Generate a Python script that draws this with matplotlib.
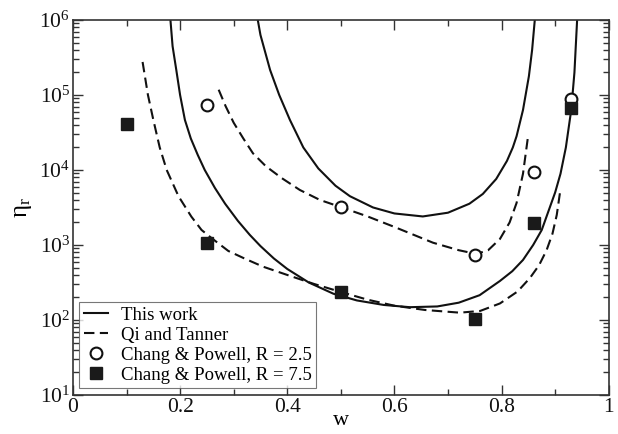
import numpy as np
import matplotlib
matplotlib.use('Agg')
import matplotlib.pyplot as plt
from matplotlib.ticker import LogLocator, MultipleLocator, NullFormatter, FuncFormatter

plt.rcParams['font.family'] = 'serif'
plt.rcParams['font.serif'] = ['Liberation Serif', 'DejaVu Serif']
plt.rcParams['mathtext.fontset'] = 'custom'
plt.rcParams['mathtext.rm'] = 'Liberation Serif'
plt.rcParams['mathtext.it'] = 'Liberation Serif'

# viscosities are kept as log10(eta_r)
# model curves, "This work"
w_work_a = [0.182, 0.186, 0.193, 0.200, 0.209, 0.220, 0.233, 0.246, 0.265, 0.284,
            0.308, 0.330, 0.350, 0.375, 0.400, 0.440, 0.486, 0.530, 0.580, 0.629,
            0.680, 0.720, 0.759, 0.797, 0.820, 0.840, 0.859, 0.875, 0.890, 0.900,
            0.910, 0.920, 0.930, 0.936, 0.941]
log_work_a = [6.0, 5.65, 5.33, 5.0, 4.667, 4.42, 4.2, 4.0, 3.76, 3.55,
              3.32, 3.135, 2.985, 2.82, 2.68, 2.5, 2.35, 2.26, 2.2, 2.17,
              2.18, 2.23, 2.33, 2.52, 2.65, 2.8, 3.0, 3.2, 3.5, 3.7,
              3.95, 4.3, 4.8, 5.3, 6.0]
w_work_b = [0.345, 0.350, 0.368, 0.385, 0.405, 0.430, 0.458, 0.490, 0.517, 0.560,
            0.600, 0.653, 0.700, 0.740, 0.765, 0.790, 0.810, 0.821, 0.828, 0.840,
            0.851, 0.857, 0.862]
log_work_b = [6.0, 5.8, 5.333, 5.0, 4.667, 4.3, 4.02, 3.79, 3.65, 3.5,
              3.42, 3.38, 3.43, 3.55, 3.68, 3.88, 4.12, 4.3, 4.45, 4.8,
              5.25, 5.6, 6.0]

# Qi and Tanner
w_qt_a = [0.272, 0.285, 0.300, 0.318, 0.336, 0.360, 0.390, 0.4235, 0.461, 0.501,
          0.550, 0.600, 0.672, 0.720, 0.753, 0.775, 0.797, 0.815, 0.828, 0.840,
          0.850]
log_qt_a = [5.07, 4.85, 4.63, 4.42, 4.222, 4.05, 3.89, 3.733, 3.6, 3.502,
            3.38, 3.24, 3.03, 2.93, 2.88, 2.93, 3.08, 3.3, 3.56, 3.95,
            4.48]
w_qt_b = [0.130, 0.140, 0.150, 0.162, 0.175, 0.197, 0.221, 0.240, 0.259, 0.290,
          0.320, 0.355, 0.400, 0.450, 0.500, 0.550, 0.600, 0.657, 0.722, 0.760,
          0.797, 0.830, 0.853, 0.870, 0.884, 0.895, 0.903, 0.910]
log_qt_b = [5.44, 5.0, 4.67, 4.3, 4.0, 3.65, 3.378, 3.2, 3.09, 2.92,
            2.82, 2.71, 2.6, 2.48, 2.373, 2.27, 2.19, 2.133, 2.097, 2.12,
            2.22, 2.38, 2.56, 2.73, 2.93, 3.15, 3.4, 3.747]

# Chang & Powell data
w_cp25 = [0.25, 0.50, 0.75, 0.86, 0.93]
eta_cp25 = [7.4e4, 3.2e3, 7.4e2, 9.4e3, 8.9e4]
w_cp75 = [0.10, 0.25, 0.50, 0.75, 0.86, 0.93]
eta_cp75 = [4.1e4, 1.06e3, 2.36e2, 1.03e2, 1.98e3, 6.7e4]

fig = plt.figure(figsize=(6.18, 4.34), dpi=100)
ax = fig.add_axes([0.118, 0.090, 0.867, 0.864])

lw = 1.5
dash = (0, (5, 2.6))
ink = '#111111'
ax.plot(w_work_a, 10 ** np.array(log_work_a), '-', color=ink, lw=lw, label='This work')
ax.plot(w_work_b, 10 ** np.array(log_work_b), '-', color=ink, lw=lw)
ax.plot(w_qt_a, 10 ** np.array(log_qt_a), linestyle=dash, color=ink, lw=lw,
        label='Qi and Tanner')
ax.plot(w_qt_b, 10 ** np.array(log_qt_b), linestyle=dash, color=ink, lw=lw)
ax.plot(w_cp25, eta_cp25, 'o', ms=8.5, mfc='white', mec=ink, mew=1.5,
        linestyle='none', label='Chang & Powell, R = 2.5')
ax.plot(w_cp75, eta_cp75, 's', ms=8, mfc='#1a1a1a', mec='#1a1a1a',
        linestyle='none', label='Chang & Powell, R = 7.5')

ax.set_yscale('log')
ax.set_xlim(0, 1)
ax.set_ylim(1e1, 1e6)
ax.xaxis.set_major_locator(MultipleLocator(0.2))
ax.xaxis.set_minor_locator(MultipleLocator(0.1))
ax.xaxis.set_major_formatter(FuncFormatter(lambda v, p: '%g' % round(v, 2)))
ax.yaxis.set_major_locator(LogLocator(base=10, numticks=10))
ax.yaxis.set_minor_locator(LogLocator(base=10, subs=np.arange(2, 10), numticks=20))
ax.yaxis.set_minor_formatter(NullFormatter())

ax.tick_params(which='both', direction='in', top=True, right=True, colors='#333333',
               labelcolor=ink, labelsize=15.5, width=1.0)
ax.tick_params(which='major', length=7.5, pad=2)
ax.tick_params(which='minor', length=4)
for s in ax.spines.values():
    s.set_color('#333333')
    s.set_linewidth(1.2)

ax.set_xlabel('w', fontsize=16, labelpad=-4)
ax.set_ylabel(r'$\mathrm{\eta_{r}}$', fontsize=18, labelpad=4)

leg = ax.legend(loc='lower left', fontsize=13.5, frameon=True, fancybox=False,
                borderaxespad=0.35, handlelength=1.25, handletextpad=0.7,
                labelspacing=0.15, borderpad=0.25)
leg.get_frame().set_edgecolor('#555555')
leg.get_frame().set_linewidth(0.8)

fig.savefig('out.png', dpi=100)
